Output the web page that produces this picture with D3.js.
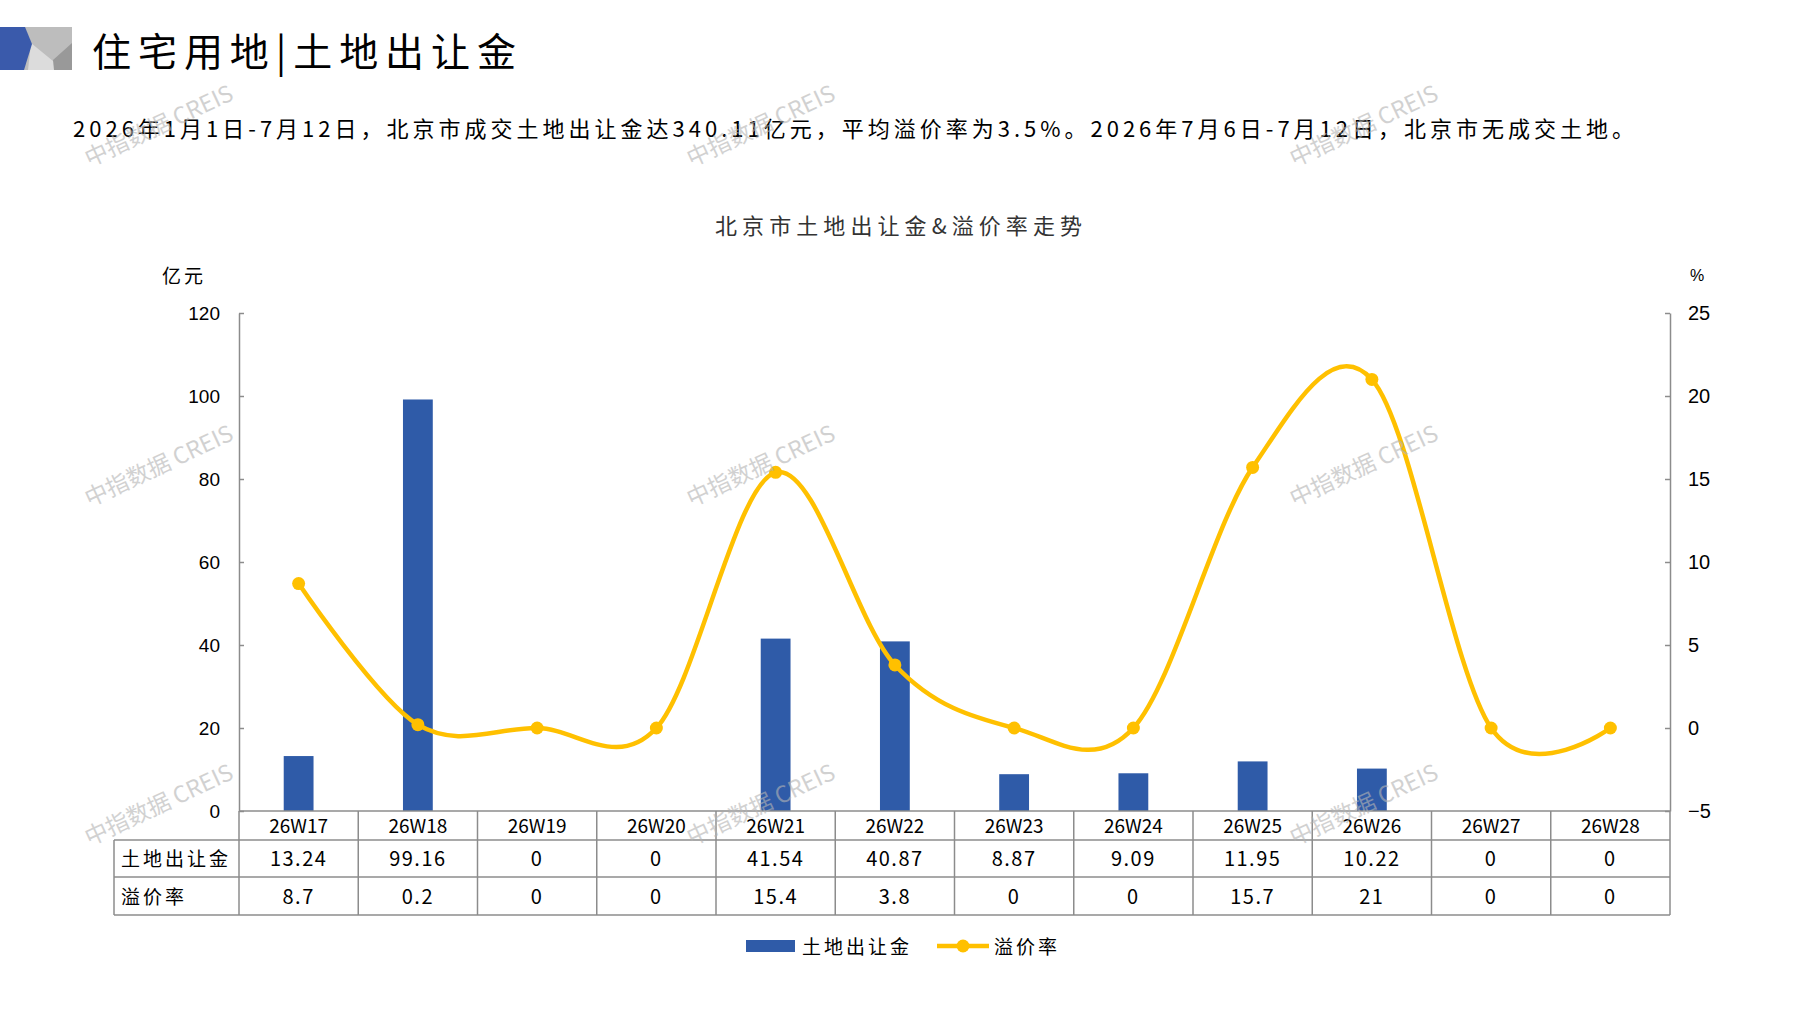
<!DOCTYPE html>
<html>
<head>
<meta charset="utf-8">
<script src="https://cdn.jsdelivr.net/npm/d3@7/dist/d3.min.js"></script>
<style>
    body { margin: 0; background: #fff; }
    text { font-family: "Liberation Sans", "Noto Sans CJK SC", sans-serif; }
    .cjk { font-family: "Noto Sans CJK SC", sans-serif; }
    .axis path, .axis line { stroke: #8c8c8c; stroke-width: 1.5; }
    .axis text { font-size: 19px; fill: #000; }
    .grid { stroke: #8c8c8c; stroke-width: 1.5; }
</style>
</head>
<body>
<script>
    //chart data
    var weeks = ["26W17","26W18","26W19","26W20","26W21","26W22","26W23","26W24","26W25","26W26","26W27","26W28"];
    var landFee = [13.24, 99.16, 0, 0, 41.54, 40.87, 8.87, 9.09, 11.95, 10.22, 0, 0];      //亿元
    var premiumRate = [8.7, 0.2, 0, 0, 15.4, 3.8, 0, 0, 15.7, 21, 0, 0];                  //%
    var leftTicks = [0, 20, 40, 60, 80, 100, 120];
    var rightTicks = [-5, 0, 5, 10, 15, 20, 25];
    var feeLabels = ["13.24","99.16","0","0","41.54","40.87","8.87","9.09","11.95","10.22","0","0"];
    var rateLabels = ["8.7","0.2","0","0","15.4","3.8","0","0","15.7","21","0","0"];

(function(){
    var barColor = "#2f5ba8",
        lineColor = "#ffc000";

    var width = 1797,
        height = 1010;

    var svg = d3.select("body")
        .append("svg")
        .attr("width", width)
        .attr("height", height);

    //plot area
    var plotLeft = 239, plotRight = 1670, plotTop = 313, plotBottom = 811;
    var rowY = [811, 840, 877, 915];   //table row borders

    var x = d3.scaleBand().domain(weeks).range([plotLeft, plotRight]);
    var yLeft = d3.scaleLinear().domain([0, 120]).range([plotBottom, plotTop]);
    var yRight = d3.scaleLinear().domain([-5, 25]).range([plotBottom, plotTop]);

    drawHeader();
    drawBars();
    drawAxes();
    drawTable();
    drawLine();
    drawLegend();
    drawWatermarks();

    function drawHeader(){
        //small decorative block
        var g = svg.append("g");
        g.append("rect").attr("x", 0).attr("y", 27).attr("width", 72).attr("height", 43).attr("fill", "#bdbdbd");
        g.append("polygon").attr("points", "31,43 28,70 64,70").attr("fill", "#dcdcdc");
        g.append("polygon").attr("points", "72,43 72,70 54,70 53,60").attr("fill", "#999");
        g.append("polygon").attr("points", "0,27 25,27 32,44 24,70 0,70").attr("fill", "#3a5aab");

        svg.append("text")
            .attr("class", "cjk")
            .attr("x", 92).attr("y", 49)
            .attr("dominant-baseline", "central")
            .attr("textLength", 424).attr("lengthAdjust", "spacing")
            .style("font-size", "39px")
            .text("住宅用地|土地出让金");

        svg.append("text")
            .attr("class", "cjk")
            .attr("x", 73).attr("y", 127)
            .attr("dominant-baseline", "central")
            .attr("letter-spacing", 4)
            .style("font-size", "22px")
            .text("2026年1月1日-7月12日，北京市成交土地出让金达340.11亿元，平均溢价率为3.5%。2026年7月6日-7月12日，北京市无成交土地。");

        svg.append("text")
            .attr("class", "cjk")
            .attr("x", 715).attr("y", 224)
            .attr("dominant-baseline", "central")
            .attr("textLength", 367).attr("lengthAdjust", "spacing")
            .style("font-size", "22px")
            .style("fill", "#333")
            .text("北京市土地出让金&溢价率走势");

        svg.append("text").attr("class", "cjk")
            .attr("x", 184).attr("y", 274)
            .attr("text-anchor", "middle").attr("dominant-baseline", "central")
            .attr("letter-spacing", 3)
            .style("font-size", "19px")
            .text("亿元");

        svg.append("text")
            .attr("x", 1697).attr("y", 275)
            .attr("text-anchor", "middle").attr("dominant-baseline", "central")
            .style("font-size", "16px")
            .text("%");
    };

    function drawBars(){
        var bw = x.bandwidth() * 0.25;
        svg.selectAll(".bar")
            .data(landFee)
            .enter()
            .append("rect")
            .attr("class", "bar")
            .attr("x", function(d, i){ return x(weeks[i]) + (x.bandwidth() - bw) / 2; })
            .attr("y", function(d){ return yLeft(d); })
            .attr("width", bw)
            .attr("height", function(d){ return plotBottom - yLeft(d); })
            .attr("fill", barColor);
    };

    function drawAxes(){
        var axisL = d3.axisLeft(yLeft)
            .tickValues(leftTicks)
            .tickSize(-5)
            .tickSizeOuter(0)
            .tickPadding(19);
        svg.append("g")
            .attr("class", "axis")
            .attr("transform", "translate(" + plotLeft + ",0)")
            .call(axisL);

        var axisR = d3.axisRight(yRight)
            .tickValues(rightTicks)
            .tickSize(-5)
            .tickSizeOuter(0)
            .tickPadding(18);
        svg.append("g")
            .attr("class", "axis")
            .attr("transform", "translate(" + plotRight + ",0)")
            .call(axisR)
            .selectAll("text")
            .style("font-size", "20px")
            .text(function(d){ return d < 0 ? "\u22125" : d; });
    };

    function drawTable(){
        var tableLeft = 114;
        //horizontal borders
        svg.append("line").attr("class", "grid")
            .attr("x1", plotLeft).attr("x2", plotRight).attr("y1", rowY[0]).attr("y2", rowY[0]);
        for (var r = 1; r < rowY.length; r++){
            svg.append("line").attr("class", "grid")
                .attr("x1", tableLeft).attr("x2", plotRight).attr("y1", rowY[r]).attr("y2", rowY[r]);
        };
        //vertical borders
        svg.append("line").attr("class", "grid")
            .attr("x1", tableLeft).attr("x2", tableLeft).attr("y1", rowY[1]).attr("y2", rowY[3]);
        var edges = weeks.map(function(w){ return x(w); }).concat([plotRight]);
        svg.selectAll(".vline")
            .data(edges)
            .enter()
            .append("line")
            .attr("class", "grid")
            .attr("x1", function(d){ return d; }).attr("x2", function(d){ return d; })
            .attr("y1", rowY[0]).attr("y2", rowY[3]);

        var rows = [weeks, feeLabels, rateLabels];
        rows.forEach(function(row, r){
            svg.selectAll(".cell" + r)
                .data(row)
                .enter()
                .append("text")
                .attr("class", "cjk")
                .attr("x", function(d, i){ return x(weeks[i]) + x.bandwidth() / 2; })
                .attr("y", (rowY[r] + rowY[r + 1]) / 2 - 1)
                .attr("text-anchor", "middle")
                .attr("dominant-baseline", "central")
                .attr("letter-spacing", r == 0 ? 0 : 1.5)
                .style("font-size", r == 0 ? "19px" : "20px")
                .text(function(d){ return d; });
        });

        //row headers
        var heads = ["土地出让金", "溢价率"];
        heads.forEach(function(h, i){
            svg.append("text")
                .attr("class", "cjk")
                .attr("x", 121)
                .attr("y", (rowY[i + 1] + rowY[i + 2]) / 2 - 1)
                .attr("dominant-baseline", "central")
                .attr("letter-spacing", 3)
                .style("font-size", "19px")
                .text(h);
        });
    };

    function drawLine(){
        var cx = function(d, i){ return x(weeks[i]) + x.bandwidth() / 2; };
        var line = d3.line()
            .x(cx)
            .y(function(d){ return yRight(d); })
            .curve(d3.curveCardinal.tension(0));

        svg.append("path")
            .datum(premiumRate)
            .attr("d", line)
            .attr("fill", "none")
            .attr("stroke", lineColor)
            .attr("stroke-width", 4.5);

        svg.selectAll(".dot")
            .data(premiumRate)
            .enter()
            .append("circle")
            .attr("cx", cx)
            .attr("cy", function(d){ return yRight(d); })
            .attr("r", 6.5)
            .attr("fill", lineColor);
    };

    function drawLegend(){
        var ly = 946;
        svg.append("rect").attr("x", 746).attr("y", ly - 6).attr("width", 49).attr("height", 12).attr("fill", barColor);
        svg.append("text").attr("class", "cjk")
            .attr("x", 802).attr("y", ly - 1)
            .attr("dominant-baseline", "central")
            .attr("letter-spacing", 3)
            .style("font-size", "19px")
            .text("土地出让金");

        svg.append("line").attr("x1", 937).attr("x2", 989).attr("y1", ly).attr("y2", ly)
            .attr("stroke", lineColor).attr("stroke-width", 4.5);
        svg.append("circle").attr("cx", 963).attr("cy", ly).attr("r", 6.5).attr("fill", lineColor);
        svg.append("text").attr("class", "cjk")
            .attr("x", 994).attr("y", ly - 1)
            .attr("dominant-baseline", "central")
            .attr("letter-spacing", 3)
            .style("font-size", "19px")
            .text("溢价率");
    };

    function drawWatermarks(){
        var wx = [158, 760, 1363],
            wy = [124, 464, 803];
        wy.forEach(function(yy){
            wx.forEach(function(xx){
                svg.append("text")
                    .attr("class", "cjk")
                    .attr("transform", "translate(" + xx + "," + yy + ") rotate(-25)")
                    .attr("text-anchor", "middle")
                    .attr("dominant-baseline", "central")
                    .style("font-size", "23px")
                    .style("fill", "#b4b4b4")
                    .style("opacity", 0.6)
                    .text("中指数据 CREIS");
            });
        });
    };
})();
</script>
</body>
</html>
